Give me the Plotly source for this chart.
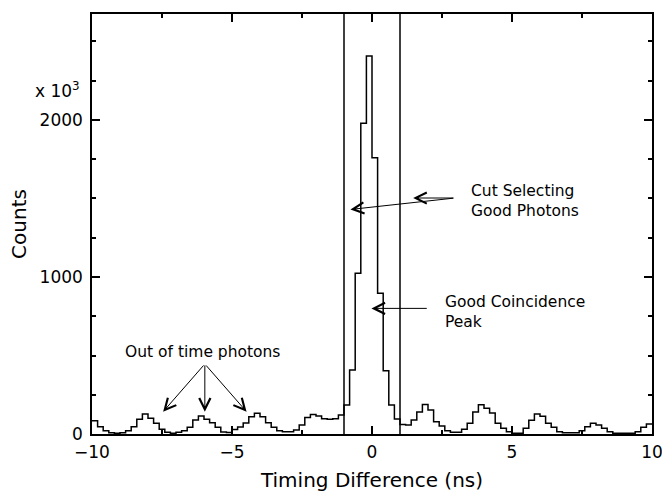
import plotly.graph_objects as go

# ---- data ----
t_start = -10.0          # ns, left edge of first bin
bin_width = 0.2          # ns
counts = [85, 46, 21, 8, 4, 8, 21, 46, 94, 127,
          100, 68, 30, 11, 4, 11, 21, 43, 89, 115,
          94, 72, 43, 13, 10, 29, 45, 70, 110, 132,
          110, 72, 43, 21, 15, 15, 25, 57, 105, 124,
          115, 97, 94, 97, 121, 185, 408, 1024, 1979, 2408,
          1760, 896, 403, 185, 96, 61, 57, 89, 140, 188,
          153, 78, 51, 21, 11, 11, 30, 68, 140, 187,
          164, 134, 68, 36, 15, 4, 4, 36, 87, 127,
          113, 68, 43, 15, 8, 8, 8, 21, 46, 68,
          57, 36, 15, 4, 4, 4, 4, 15, 43, 64]
cut_low, cut_high = -1.0, 1.0
x_tick_vals = [-10, -5, 0, 5, 10]
x_tick_text = ["\u221210", "\u22125", "0", "5", "10"]
y_tick_vals = [0, 1000, 2000]
y_tick_text = ["0", "1000", "2000"]

edges = [t_start + bin_width * i for i in range(len(counts) + 1)]
yvals = counts + [counts[-1]]

FONT = "DejaVu Sans"
ANN_SIZE = 15.5
fig = go.Figure()
fig.add_trace(go.Scatter(x=edges, y=yvals, mode="lines", line_shape="hv",
                         line=dict(color="black", width=1.5), showlegend=False,
                         hoverinfo="skip"))

for c in (cut_low, cut_high):
    fig.add_shape(type="line", x0=c, x1=c, y0=0, y1=1, xref="x", yref="paper",
                  line=dict(color="black", width=1.5))

arrow_style = dict(arrowhead=5, arrowsize=2.2, arrowwidth=1, arrowcolor="black")
ann = []
# Out of time photons
ann.append(dict(x=-6.04, y=522, xref="x", yref="y", text="Out of time photons",
                showarrow=False, font=dict(family=FONT, size=ANN_SIZE, color="black"),
                xanchor="center", yanchor="middle"))
for tip in (-7.46, -5.97, -4.48):
    ann.append(dict(x=tip, y=142, ax=-5.97, ay=446, xref="x", yref="y",
                    axref="x", ayref="y", text="", showarrow=True, **arrow_style))
# Cut selecting good photons
ann.append(dict(x=3.46, y=1481, xref="x", yref="y", text="Cut Selecting<br>Good Photons",
                showarrow=False, font=dict(family=FONT, size=ANN_SIZE, color="black"),
                xanchor="left", yanchor="middle", align="left"))
ann.append(dict(x=1.47, y=1503, ax=2.96, ay=1503, xref="x", yref="y",
                axref="x", ayref="y", text="", showarrow=True, **arrow_style))
ann.append(dict(x=-0.77, y=1430, ax=2.96, ay=1503, xref="x", yref="y",
                axref="x", ayref="y", text="", showarrow=True, **arrow_style))
# Good coincidence peak
ann.append(dict(x=2.53, y=780, xref="x", yref="y", text="Good Coincidence<br>Peak",
                showarrow=False, font=dict(family=FONT, size=ANN_SIZE, color="black"),
                xanchor="left", yanchor="middle", align="left"))
ann.append(dict(x=-0.02, y=800, ax=2.01, ay=800, xref="x", yref="y",
                axref="x", ayref="y", text="", showarrow=True, **arrow_style))
# multiplier
ann.append(dict(x=-0.061, y=0.82, xref="paper", yref="paper", text="x 10<sup>3</sup>",
                showarrow=False, font=dict(family=FONT, size=17, color="black"),
                xanchor="center", yanchor="middle"))

axis_common = dict(showline=True, linecolor="black", linewidth=1.5, mirror="ticks",
                   ticks="inside", ticklen=8, tickwidth=1.5, tickcolor="black",
                   showgrid=False, zeroline=False, automargin=False,
                   ticklabeloverflow="allow",
                   tickfont=dict(family=FONT, size=17, color="black"))

fig.update_layout(
    width=662, height=494,
    margin=dict(l=92, r=10, t=14, b=60),
    paper_bgcolor="white", plot_bgcolor="white",
    annotations=ann,
    xaxis=dict(range=[-10, 10], tickmode="array", tickvals=x_tick_vals,
               ticktext=x_tick_text, ticklabelstandoff=2,
               minor=dict(ticks="inside", ticklen=4, tickwidth=1.5, tickcolor="black",
                          tickvals=[-7.5, -2.5, 2.5, 7.5], showgrid=False),
               title=dict(text="Timing Difference (ns)",
                          font=dict(family=FONT, size=20, color="black"), standoff=12),
               **axis_common),
    yaxis=dict(range=[0, 2675], tickmode="array", tickvals=y_tick_vals,
               ticktext=y_tick_text, ticklabelstandoff=4,
               minor=dict(ticks="inside", ticklen=4, tickwidth=1.5, tickcolor="black",
                          dtick=250, tick0=0, showgrid=False),
               title=dict(text="Counts", font=dict(family=FONT, size=20, color="black"),
                          standoff=8),
               **axis_common),
)

fig.write_html("out.html", config={"displayModeBar": False},
               post_script="document.body.style.margin='0';document.body.style.overflow='hidden';")
